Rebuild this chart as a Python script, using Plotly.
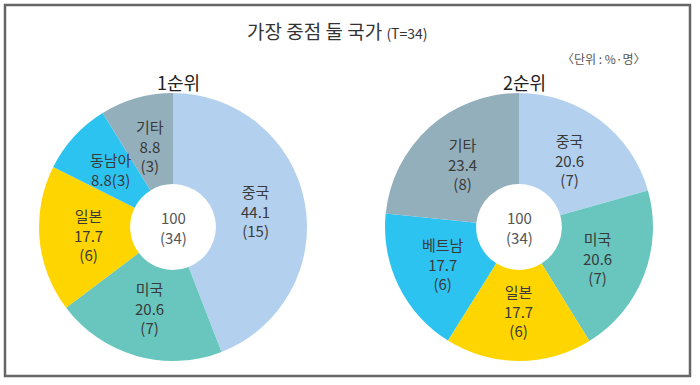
import math
import plotly.graph_objects as go

# ---- data ----
names1 = ["중국", "미국", "일본", "동남아", "기타"]
values1 = [44.1, 20.6, 17.7, 8.8, 8.8]
counts1 = [15, 7, 6, 3, 3]

names2 = ["중국", "미국", "일본", "베트남", "기타"]
values2 = [20.6, 20.6, 17.7, 17.7, 23.4]
counts2 = [7, 7, 6, 6, 8]

total_pct = 100
total_n = 34

colors = ["#B3D1EE", "#68C6BF", "#FFD500", "#2DC3F1", "#93AFBC"]

W, H = 700, 385
FONT = "Liberation Sans Narrow, Noto Sans CJK KR, sans-serif"
KFONT = "Noto Sans CJK KR, sans-serif"

def px(x):
    return x / W

def py(y):
    return 1 - y / H

R = 134
HOLE = 0.32
pies = [
    dict(cx=173, cy=227, names=names1, values=values1, counts=counts1, title="1순위"),
    dict(cx=519, cy=227, names=names2, values=values2, counts=counts2, title="2순위"),
]

def ann(x, y, text, font, xanchor="center"):
    return dict(x=px(x), y=py(y), xref="paper", yref="paper", text=text,
                showarrow=False, xanchor=xanchor, yanchor="middle", font=font)

fig = go.Figure()
annotations = []
for p in pies:
    fig.add_trace(go.Pie(
        labels=p["names"], values=p["values"], sort=False, direction="clockwise",
        rotation=0, hole=HOLE, textinfo="none", hoverinfo="label+value",
        marker=dict(colors=colors, line=dict(width=0)), showlegend=False,
        domain=dict(x=[px(p["cx"] - R), px(p["cx"] + R)],
                    y=[py(p["cy"] + R), py(p["cy"] - R)]),
    ))
    tot = sum(p["values"])
    cum = 0
    for nm, v, c in zip(p["names"], p["values"], p["counts"]):
        mid = (cum + v / 2) / tot * 2 * math.pi
        cum += v
        r = R * 0.63
        lx = p["cx"] + r * math.sin(mid)
        ly = p["cy"] - r * math.cos(mid)
        if nm == "동남아":
            txt = f"{nm}<br>{v}({c})"
        else:
            txt = f"{nm}<br>{v}<br>({c})"
        annotations.append(ann(lx, ly, txt, dict(family=FONT, size=15, color="#3a3a3a")))
    annotations.append(ann(p["cx"], p["cy"], f"{total_pct}<br>({total_n})",
                           dict(family=FONT, size=15, color="#555555")))
    annotations.append(ann(p["cx"] + 5, 82, p["title"],
                           dict(family=KFONT, size=18, color="#222222")))

annotations.append(ann(337, 30, "가장 중점 둘 국가 <span style='font-size:14px'>(T=34)</span>",
                       dict(family=KFONT, size=19, color="#333333")))
annotations.append(ann(648, 58, "〈단위 : %·명〉",
                       dict(family=KFONT, size=12, color="#555555"), xanchor="right"))

fig.update_layout(
    width=W, height=H, margin=dict(l=0, r=0, t=0, b=0),
    paper_bgcolor="white", plot_bgcolor="white",
    annotations=annotations,
    shapes=[dict(type="rect", xref="paper", yref="paper",
                 x0=px(5), x1=px(690), y0=py(376), y1=py(5),
                 line=dict(color="#666666", width=2.5))],
)

fig.write_html("out.html", config={"displayModeBar": False},
               post_script="document.body.style.margin='0';")
